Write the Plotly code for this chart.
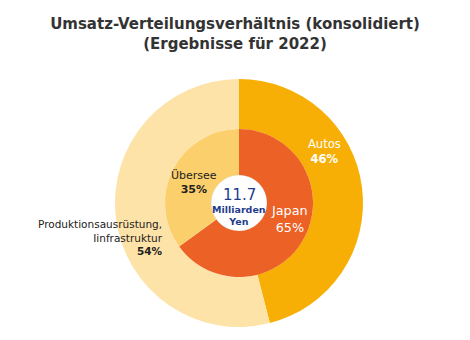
import plotly.graph_objects as go

# Data
outer_labels = ["Autos", "Produktionsausrüstung, Iinfrastruktur"]
outer_values = [46, 54]
inner_labels = ["Japan", "Übersee"]
inner_values = [65, 35]
total_value = "11.7"
total_unit = "Milliarden<br>Yen"

outer_colors = ["#F8AF05", "#FEE3A8"]
inner_colors = ["#EB6126", "#FBCF6C"]

W, H = 470, 340
cx, cy = 239, 203
R_out, R_in, R_c = 124, 74, 28

def dom(r):
    return dict(x=[(cx - r) / W, (cx + r) / W],
                y=[(H - cy - r) / H, (H - cy + r) / H])

fig = go.Figure()
fig.add_trace(go.Pie(
    labels=outer_labels, values=outer_values, sort=False,
    direction="clockwise", rotation=0, hole=R_in / R_out,
    marker=dict(colors=outer_colors, line=dict(width=0)),
    textinfo="none", hoverinfo="label+percent", domain=dom(R_out),
    showlegend=False,
))
fig.add_trace(go.Pie(
    labels=inner_labels, values=inner_values, sort=False,
    direction="clockwise", rotation=0, hole=R_c / R_in,
    marker=dict(colors=inner_colors, line=dict(width=0)),
    textinfo="none", hoverinfo="label+percent", domain=dom(R_in),
    showlegend=False,
))

fig.add_shape(type="circle", xref="paper", yref="paper", layer="below",
              x0=(cx - R_c) / W, x1=(cx + R_c) / W,
              y0=(H - cy - R_c) / H, y1=(H - cy + R_c) / H,
              fillcolor="white", line=dict(width=1, color="#E6E6E6"))

F = "DejaVu Sans"
def ann(x, y, text, size, color, xanchor="center", align="center"):
    fig.add_annotation(x=x / W, y=1 - y / H, xref="paper", yref="paper",
                       text=text, showarrow=False, xanchor=xanchor,
                       yanchor="middle", align=align,
                       font=dict(family=F, size=size, color=color))

ann(324, 151, f"{outer_labels[0]}<br><b>{outer_values[0]}%</b>", 11.5, "white")
ann(165, 237, "Produktionsausrüstung,<br>Iinfrastruktur<br><b>%d%%</b>" % outer_values[1],
    10.5, "#222222", xanchor="right", align="right")
ann(289, 219, f"{inner_labels[0]}<br>{inner_values[0]}%", 12.8, "white")
ann(194, 182, f"{inner_labels[1]}<br><b>{inner_values[1]}%</b>", 11, "#222222")
ann(239, 195, total_value, 15, "#1F3C8C")
ann(239, 215, f"<b>{total_unit}</b>", 9.5, "#1F3C8C")

fig.update_layout(
    width=W, height=H,
    margin=dict(l=0, r=0, t=0, b=0),
    paper_bgcolor="white", plot_bgcolor="white",
    title=dict(text="<b>Umsatz-Verteilungsverhältnis (konsolidiert)<br>(Ergebnisse für 2022)</b>",
               x=0.5, xanchor="center", y=1 - 29 / H, yanchor="middle",
               font=dict(family=F, size=15, color="#333333")),
)
fig.write_html("out.html")
